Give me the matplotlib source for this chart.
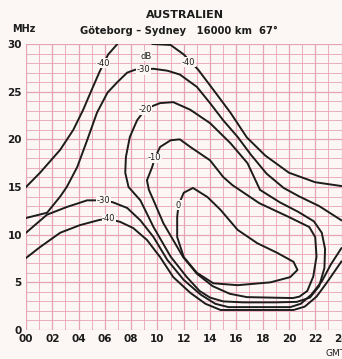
import matplotlib
matplotlib.use("Agg")
import matplotlib.pyplot as plt
import numpy as np

# hours GMT, frequency MHz
neg40_up_left_h = [0, 1.07, 2.6, 3.6, 4.35, 5.0, 5.6, 6.25, 6.95]
neg40_up_left_f = [15.0, 16.5, 18.9, 21.0, 23.1, 25.2, 27.1, 28.9, 30.0]
neg40_up_right_h = [9.6, 11.0, 12.0, 13.1, 14.25, 15.55, 16.8, 18.2, 20.0, 22.0, 24.0]
neg40_up_right_f = [30.0, 29.9, 28.9, 27.3, 25.2, 22.8, 20.2, 18.3, 16.5, 15.5, 15.1]

neg30_up_h = [0, 1.6, 2.6, 3.1, 3.9, 4.65, 5.4, 6.2, 6.95, 7.7, 8.3, 9.7, 10.75, 11.7,
              13.0, 14.0, 15.0, 16.1, 17.1, 18.3, 19.6, 20.8, 22.3, 24.0]
neg30_up_f = [11.75, 12.3, 14.0, 15.0, 17.1, 19.9, 22.8, 24.9, 26.0, 27.0, 27.3, 27.4, 27.2, 26.8,
              25.5, 23.8, 22.0, 20.25, 18.4, 16.4, 14.9, 14.0, 13.0, 11.5]

neg40_low_h = [0, 1.07, 2.6, 4.1, 5.6, 6.25, 7.15, 8.15, 9.2, 10.2, 11.2, 12.5, 13.65, 14.8,
               20.35, 21.2, 22.1, 22.9, 23.5, 24.0]
neg40_low_f = [7.55, 8.7, 10.2, 11.0, 11.55, 11.65, 11.35, 10.7, 9.45, 7.65, 5.55, 3.9, 2.75, 2.1,
               2.1, 2.45, 3.5, 5.0, 6.2, 7.2]

neg30_low_h = [0, 1.6, 3.1, 4.65, 5.9, 6.6, 7.7, 8.7, 9.7, 10.75, 12.0, 13.3, 14.4, 15.4,
               20.1, 20.9, 21.7, 22.5, 23.2, 24.0]
neg30_low_f = [10.2, 12.1, 12.9, 13.6, 13.6, 13.4, 12.8, 11.5, 9.75, 7.35, 5.25, 3.7, 2.75, 2.4,
               2.4, 2.75, 3.7, 5.1, 6.9, 8.6]

neg20_h = [9.05, 9.45, 10.2, 11.2, 12.5, 14.0, 15.55, 16.85, 17.8, 19.3, 20.7, 21.9, 22.5, 22.75,
           22.7, 22.3, 21.6, 20.6, 19.0, 16.5, 15.0, 14.0, 13.2, 12.2, 11.0, 9.7, 8.7, 7.8,
           7.55, 7.6, 7.9, 8.45, 9.05]
neg20_f = [23.1, 23.4, 23.8, 23.9, 23.1, 21.7, 19.6, 17.5, 14.7, 13.4, 12.4, 11.4, 10.2, 8.5,
           6.5, 4.6, 3.4, 2.95, 2.9, 2.9, 3.0, 3.4, 4.1, 5.6, 7.7, 10.8, 13.6, 15.0,
           16.5, 18.15, 20.25, 22.0, 23.1]

neg10_h = [9.8, 10.2, 11.0, 11.7, 12.5, 14.0, 15.0, 15.7, 17.75, 20.0, 21.55, 22.0, 22.1, 21.85,
           21.4, 20.8, 20.3, 16.8, 15.5, 14.2, 13.0, 11.95, 10.45, 9.7, 9.35, 9.2, 9.6, 9.8]
neg10_f = [18.05, 19.2, 19.9, 20.0, 19.2, 17.8, 16.05, 15.2, 13.3, 11.85, 10.8, 9.75, 7.7, 5.6,
           4.1, 3.5, 3.35, 3.45, 3.8, 4.6, 5.9, 7.65, 11.2, 13.6, 14.7, 15.7, 17.1, 18.05]

zero_h = [11.6, 12.0, 12.7, 13.8, 14.8, 16.1, 17.6, 19.1, 20.35, 20.65, 20.1, 18.6, 16.1, 14.25,
          13.0, 12.0, 11.5, 11.5, 11.6]
zero_f = [13.1, 14.4, 14.9, 13.95, 12.6, 10.5, 9.1, 8.1, 7.15, 6.3, 5.55, 5.0, 4.7, 4.9,
          6.0, 7.65, 9.75, 11.85, 13.1]

# contour labels: text, hour, MHz
labels = [("-40", 5.85, 28.0), ("-40", 12.35, 28.1), ("dB", 9.15, 28.7), ("-30", 8.95, 27.3),
          ("-20", 9.05, 23.1), ("-10", 9.8, 18.05), ("0", 11.6, 13.1),
          ("-30", 5.9, 13.6), ("-40", 6.3, 11.65)]

x_ticks = list(range(0, 25, 2))
x_ticklabels = ["%02d" % h for h in x_ticks]
y_ticks = [0, 5, 10, 15, 20, 25, 30]

paper = "#fcf7f5"
ink = "#1c1c1c"

fig = plt.figure(figsize=(3.42, 3.59), dpi=100, facecolor=paper)
ax = fig.add_axes([26 / 342, 29 / 359, 315.5 / 342, 286 / 359])
ax.set_facecolor(paper)
ax.set_xlim(0, 24)
ax.set_ylim(0, 30)

# pink graph paper
for h in range(0, 25):
    ax.axvline(h, color="#e7a3b6", lw=0.9 if h % 2 == 0 else 0.6, zorder=0)
for f in range(0, 31):
    ax.axhline(f, color="#e7a3b6", lw=0.9 if f % 5 == 0 else 0.6, zorder=0)

for sp in ax.spines.values():
    sp.set_visible(False)

curves = [
    (neg40_up_left_h, neg40_up_left_f), (neg40_up_right_h, neg40_up_right_f),
    (neg30_up_h, neg30_up_f), (neg40_low_h, neg40_low_f), (neg30_low_h, neg30_low_f),
    (neg20_h, neg20_f), (neg10_h, neg10_f), (zero_h, zero_f),
]
for hh, ff in curves:
    ax.plot(hh, ff, color=ink, lw=1.4, solid_capstyle="round", zorder=2)

for txt, hh, ff in labels:
    ax.text(hh, ff, txt, fontsize=6, color=ink, ha="center", va="center", zorder=3,
            bbox=dict(boxstyle="square,pad=0.05", fc=paper, ec="none"))

ax.set_xticks(x_ticks)
ax.set_xticklabels(x_ticklabels)
ax.set_yticks(y_ticks)
ax.tick_params(length=0, labelsize=7.5, colors=ink, pad=3)
for t in ax.get_xticklabels() + ax.get_yticklabels():
    t.set_fontweight("bold")

fig.text(12 / 342, 1 - 29 / 359, "MHz", fontsize=7, fontweight="bold", color=ink,
         ha="left", va="center")
fig.text(185 / 342, 1 - 15 / 359, "AUSTRALIEN", fontsize=8, fontweight="bold", color=ink,
         ha="center", va="center")
fig.text(179 / 342, 1 - 31 / 359, "Göteborg – Sydney   16000 km  67°", fontsize=7.2,
         fontweight="bold", color=ink, ha="center", va="center")
fig.text(325 / 342, 1 - 353 / 359, "GMT", fontsize=6.5, color=ink, ha="left", va="center")

fig.savefig("out.png", dpi=100, facecolor=paper)
